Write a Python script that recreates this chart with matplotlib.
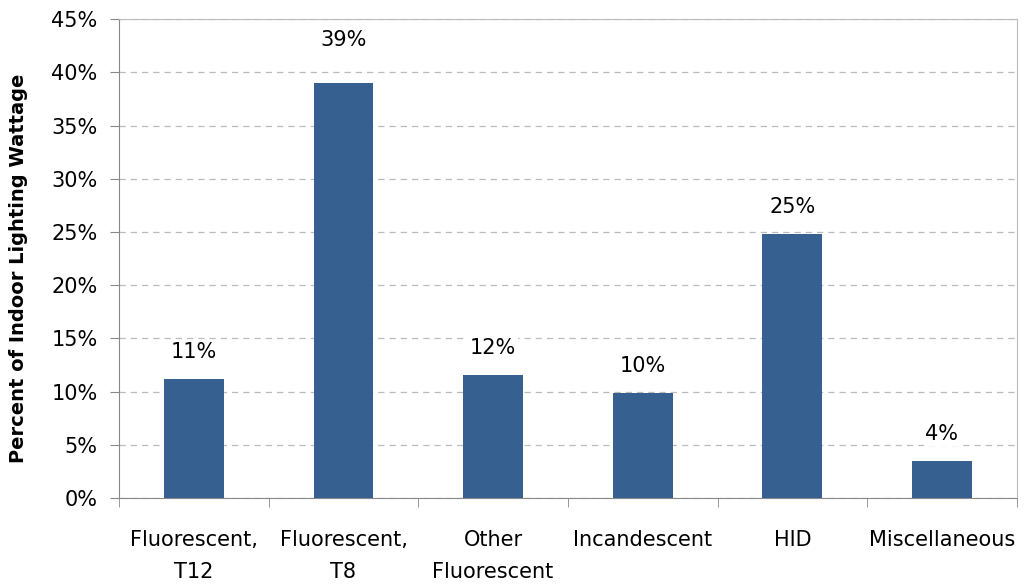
import matplotlib.pyplot as plt
from matplotlib.ticker import MultipleLocator, FuncFormatter

categories = ["Fluorescent,\nT12", "Fluorescent,\nT8", "Other\nFluorescent",
              "Incandescent", "HID", "Miscellaneous"]
values = [11.2, 39.0, 11.6, 9.9, 24.8, 3.5]
labels = ["11%", "39%", "12%", "10%", "25%", "4%"]

plt.rcParams['font.family'] = ['DejaVu Sans']

fig = plt.figure(figsize=(10.26, 5.86), dpi=100)
ax = fig.add_axes([0.116, 0.150, 0.875, 0.8175])

x = range(len(categories))
ax.bar(x, values, width=0.4, color="#36608F", zorder=3)

# label offsets in points (the 39% label sits higher in the original)
offs = [12, 24, 12, 12, 12, 12]
for i, (v, lab) in enumerate(zip(values, labels)):
    ax.annotate(lab, (i, v), xytext=(0, offs[i]), textcoords="offset points",
                ha="center", va="bottom", fontsize=15,
                bbox=dict(facecolor="white", edgecolor="none", pad=1),
                zorder=4)

ax.set_xlim(-0.5, len(categories) - 0.5)
ax.set_ylim(0, 45)
ax.yaxis.set_major_locator(MultipleLocator(5))
ax.yaxis.set_major_formatter(FuncFormatter(lambda v, p: "%d%%" % v))
ax.tick_params(axis="y", labelsize=15, length=6.5, pad=9, color="#888888", direction="out")

ax.set_xticks(list(x))
ax.set_xticklabels(categories, fontsize=15, linespacing=1.75)
ax.set_xticks([i + 0.5 for i in range(-1, len(categories))], minor=True)
ax.tick_params(axis="x", which="major", length=0, pad=23)
ax.tick_params(axis="x", which="minor", length=6.5, color="#888888", direction="out")

ax.grid(axis="y", color="#BBBBBB", linestyle=(0, (5, 4)), linewidth=0.9, zorder=0)
for s in ["left", "bottom"]:
    ax.spines[s].set_color("#888888")
for s in ["top", "right"]:
    ax.spines[s].set_color("#BBBBBB")

ax.set_ylabel("Percent of Indoor Lighting Wattage", fontsize=14, fontweight="bold")
ax.yaxis.set_label_coords(-0.101, 0.48)

fig.savefig("out.png", dpi=100)
